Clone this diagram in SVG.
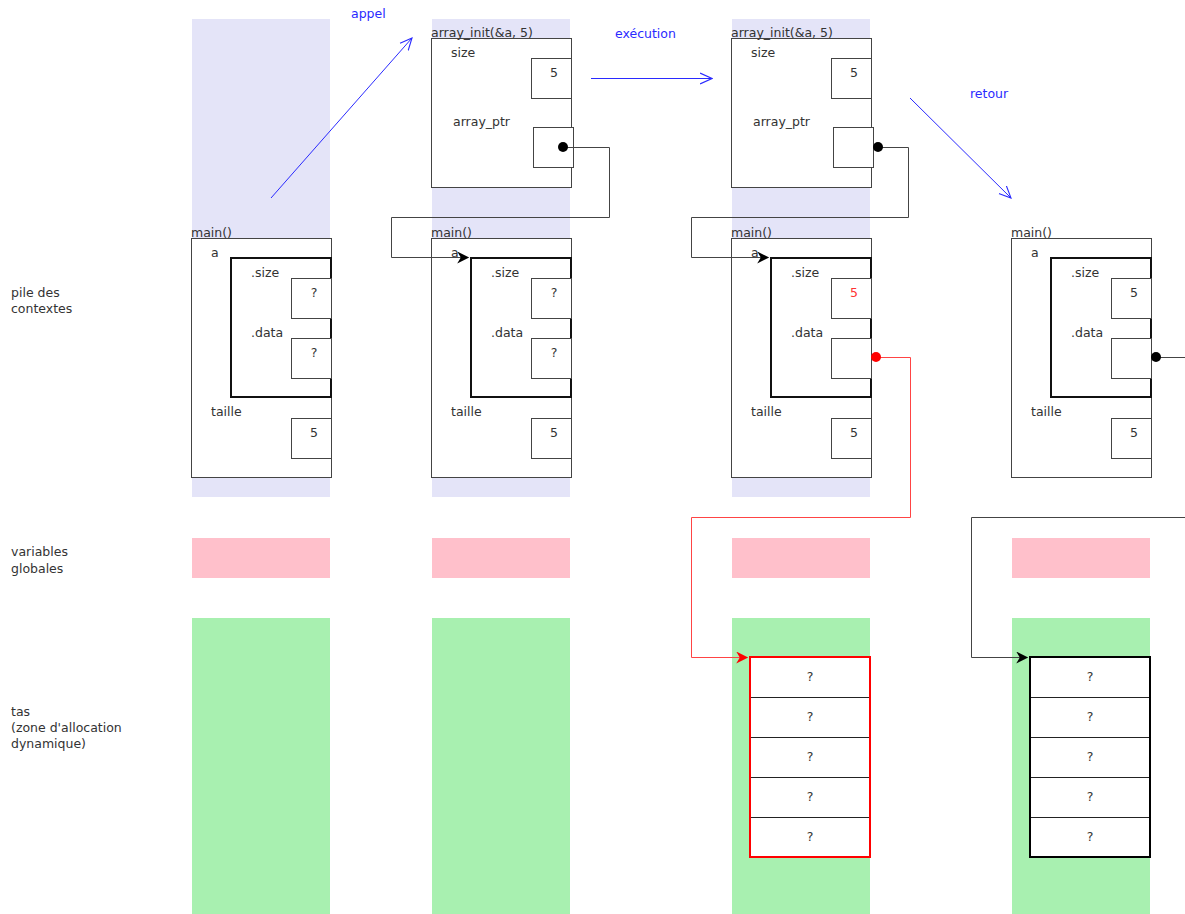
<svg xmlns="http://www.w3.org/2000/svg" width="1185" height="914" viewBox="0 0 1185 914">
<defs>
<style>
text{font-family:"DejaVu Sans","Liberation Sans",sans-serif;font-size:12.5px;fill:#333}
.lbl{fill:#2a2aff}
.red{fill:#ff3333}
.mid{text-anchor:middle}
.band{fill:#e4e4f8}
.glob{fill:#ffc0cb}
.heap{fill:#a8f0b0}
.box{fill:#fff;stroke:#444;stroke-width:1}
.struct{fill:none;stroke:#111;stroke-width:2}
.cellline{stroke:#222;stroke-width:1}
.wire{fill:none;stroke:#444;stroke-width:1}
.wirer{fill:none;stroke:#ff4444;stroke-width:1}
.blue{fill:none;stroke:#2a2aff;stroke-width:1}
</style>
<marker id="ah" viewBox="0 0 10 10" refX="9" refY="5" markerWidth="13" markerHeight="12" markerUnits="userSpaceOnUse" orient="auto"><path d="M0,0 L10,5 L0,10 L3,5 Z" fill="#000"/></marker>
<marker id="ahr" viewBox="0 0 10 10" refX="9" refY="5" markerWidth="13" markerHeight="12" markerUnits="userSpaceOnUse" orient="auto"><path d="M0,0 L10,5 L0,10 L3,5 Z" fill="#f00"/></marker>
<marker id="ahb" viewBox="0 0 12 12" refX="11" refY="6" markerWidth="13" markerHeight="13" markerUnits="userSpaceOnUse" orient="auto"><path d="M0,1 L11,6 L0,11" fill="none" stroke="#2a2aff" stroke-width="1"/></marker>
</defs>

<!-- background zones -->
<g id="zones">
<rect class="band" x="192" y="19" width="138" height="478"/>
<rect class="band" x="432" y="19" width="138" height="478"/>
<rect class="band" x="732" y="19" width="138" height="478"/>
<rect class="glob" x="192" y="538" width="138" height="40"/>
<rect class="glob" x="432" y="538" width="138" height="40"/>
<rect class="glob" x="732" y="538" width="138" height="40"/>
<rect class="glob" x="1012" y="538" width="138" height="40"/>
<rect class="heap" x="192" y="618" width="138" height="296"/>
<rect class="heap" x="432" y="618" width="138" height="296"/>
<rect class="heap" x="732" y="618" width="138" height="296"/>
<rect class="heap" x="1012" y="618" width="138" height="296"/>
</g>

<g id="legend">
<text x="11" y="297">pile des</text>
<text x="11" y="313">contextes</text>
<text x="11" y="556">variables</text>
<text x="11" y="573">globales</text>
<text x="11" y="716">tas</text>
<text x="11" y="732">(zone d'allocation</text>
<text x="11" y="748">dynamique)</text>
</g>

<!-- main frames -->
<g id="main1">
<rect class="box" x="191.5" y="238.5" width="140" height="239"/>
<text x="191" y="237">main()</text>
<text x="211" y="257">a</text>
<rect class="struct" x="231" y="258" width="100" height="139"/>
<text x="251" y="277">.size</text>
<rect class="box" x="291.5" y="278.5" width="40" height="40"/>
<text x="314" y="297" class="mid">?</text>
<text x="251" y="337">.data</text>
<rect class="box" x="291.5" y="338.5" width="40" height="40"/>
<text x="314" y="357" class="mid">?</text>
<text x="211" y="416">taille</text>
<rect class="box" x="291.5" y="418.5" width="40" height="40"/>
<text x="314" y="437" class="mid">5</text>
</g>

<g id="main2">
<rect class="box" x="431.5" y="238.5" width="140" height="239"/>
<text x="431" y="237">main()</text>
<text x="451" y="257">a</text>
<rect class="struct" x="471" y="258" width="100" height="139"/>
<text x="491" y="277">.size</text>
<rect class="box" x="531.5" y="278.5" width="40" height="40"/>
<text x="554" y="297" class="mid">?</text>
<text x="491" y="337">.data</text>
<rect class="box" x="531.5" y="338.5" width="40" height="40"/>
<text x="554" y="357" class="mid">?</text>
<text x="451" y="416">taille</text>
<rect class="box" x="531.5" y="418.5" width="40" height="40"/>
<text x="554" y="437" class="mid">5</text>
</g>

<g id="main3">
<rect class="box" x="731.5" y="238.5" width="140" height="239"/>
<text x="731" y="237">main()</text>
<text x="751" y="257">a</text>
<rect class="struct" x="771" y="258" width="100" height="139"/>
<text x="791" y="277">.size</text>
<rect class="box" x="831.5" y="278.5" width="40" height="40"/>
<text x="854" y="297" class="mid red">5</text>
<text x="791" y="337">.data</text>
<rect class="box" x="831.5" y="338.5" width="40" height="40"/>
<text x="751" y="416">taille</text>
<rect class="box" x="831.5" y="418.5" width="40" height="40"/>
<text x="854" y="437" class="mid">5</text>
</g>

<g id="main4">
<rect class="box" x="1011.5" y="238.5" width="140" height="239"/>
<text x="1011" y="237">main()</text>
<text x="1031" y="257">a</text>
<rect class="struct" x="1051" y="258" width="100" height="139"/>
<text x="1071" y="277">.size</text>
<rect class="box" x="1111.5" y="278.5" width="40" height="40"/>
<text x="1134" y="297" class="mid">5</text>
<text x="1071" y="337">.data</text>
<rect class="box" x="1111.5" y="338.5" width="40" height="40"/>
<text x="1031" y="416">taille</text>
<rect class="box" x="1111.5" y="418.5" width="40" height="40"/>
<text x="1134" y="437" class="mid">5</text>
</g>

<!-- array_init frames -->
<g id="init2">
<rect class="box" x="431.5" y="38.5" width="140" height="149"/>
<text x="431" y="37">array_init(&amp;a, 5)</text>
<text x="451" y="57">size</text>
<rect class="box" x="531.5" y="58.5" width="40" height="40"/>
<text x="554" y="77" class="mid">5</text>
<text x="453" y="126">array_ptr</text>
<rect class="box" x="533.5" y="127.5" width="40" height="40"/>
</g>

<g id="init3">
<rect class="box" x="731.5" y="38.5" width="140" height="149"/>
<text x="731" y="37">array_init(&amp;a, 5)</text>
<text x="751" y="57">size</text>
<rect class="box" x="831.5" y="58.5" width="40" height="40"/>
<text x="854" y="77" class="mid">5</text>
<text x="753" y="126">array_ptr</text>
<rect class="box" x="833.5" y="127.5" width="40" height="40"/>
</g>

<!-- heap blocks -->
<g id="heap3">
<rect x="750" y="657" width="120" height="200" fill="#fff"/>
<line class="cellline" x1="750" y1="697.5" x2="870" y2="697.5"/>
<line class="cellline" x1="750" y1="737.5" x2="870" y2="737.5"/>
<line class="cellline" x1="750" y1="777.5" x2="870" y2="777.5"/>
<line class="cellline" x1="750" y1="817.5" x2="870" y2="817.5"/>
<rect x="750" y="657" width="120" height="200" fill="none" stroke="#f00" stroke-width="2"/>
<text x="810" y="681" class="mid" font-size="11">?</text>
<text x="810" y="721" class="mid" font-size="11">?</text>
<text x="810" y="761" class="mid" font-size="11">?</text>
<text x="810" y="801" class="mid" font-size="11">?</text>
<text x="810" y="841" class="mid" font-size="11">?</text>
</g>

<g id="heap4">
<rect x="1030" y="657" width="120" height="200" fill="#fff"/>
<line class="cellline" x1="1030" y1="697.5" x2="1150" y2="697.5"/>
<line class="cellline" x1="1030" y1="737.5" x2="1150" y2="737.5"/>
<line class="cellline" x1="1030" y1="777.5" x2="1150" y2="777.5"/>
<line class="cellline" x1="1030" y1="817.5" x2="1150" y2="817.5"/>
<rect x="1030" y="657" width="120" height="200" fill="none" stroke="#000" stroke-width="2"/>
<text x="1090" y="681" class="mid" font-size="11">?</text>
<text x="1090" y="721" class="mid" font-size="11">?</text>
<text x="1090" y="761" class="mid" font-size="11">?</text>
<text x="1090" y="801" class="mid" font-size="11">?</text>
<text x="1090" y="841" class="mid" font-size="11">?</text>
</g>

<!-- connectors -->
<g id="connectors">
<polyline class="wire" points="563,147.5 609.5,147.5 609.5,217.5 391.5,217.5 391.5,257.5 468,257.5" marker-end="url(#ah)"/>
<circle cx="563" cy="147" r="5" fill="#000"/>
<polyline class="wire" points="878,147.5 908.5,147.5 908.5,217.5 691.5,217.5 691.5,257.5 768,257.5" marker-end="url(#ah)"/>
<circle cx="878" cy="147" r="5" fill="#000"/>
<polyline class="wirer" points="876,357.5 910.5,357.5 910.5,517.5 691.5,517.5 691.5,657.5 747,657.5" marker-end="url(#ahr)"/>
<circle cx="876" cy="357" r="5" fill="#f00"/>
<line class="wire" x1="1156" y1="357.5" x2="1185" y2="357.5"/>
<circle cx="1156" cy="357" r="5" fill="#000"/>
<polyline class="wire" points="1185,517.5 971.5,517.5 971.5,657.5 1027,657.5" marker-end="url(#ah)"/>
<line class="blue" x1="271" y1="198" x2="412" y2="38" marker-end="url(#ahb)"/>
<line class="blue" x1="591" y1="78.5" x2="712" y2="78.5" marker-end="url(#ahb)"/>
<line class="blue" x1="910" y1="98" x2="1011" y2="198" marker-end="url(#ahb)"/>
<text x="351" y="18" class="lbl">appel</text>
<text x="615" y="38" class="lbl">exécution</text>
<text x="970" y="98" class="lbl">retour</text>
</g>
</svg>
